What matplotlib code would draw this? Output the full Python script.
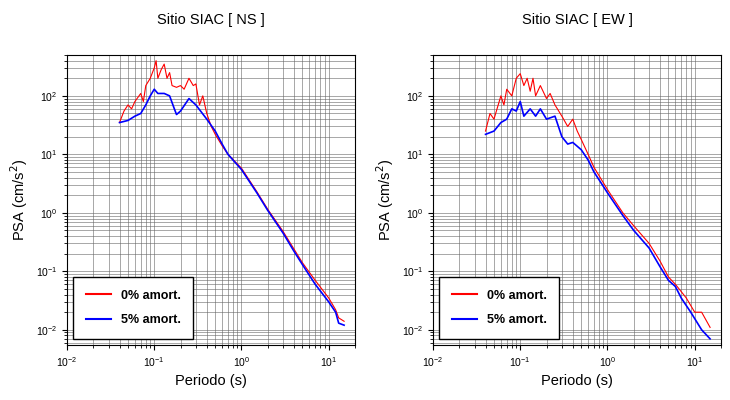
import matplotlib
matplotlib.use("Agg")
import matplotlib.pyplot as plt
from matplotlib.ticker import LogLocator, NullFormatter

plt.rcParams['font.family'] = ['Liberation Sans', 'DejaVu Sans']

titles = ["Sitio SIAC [ NS ]", "Sitio SIAC [ EW ]"]

ns5_T = [0.04,0.05,0.06,0.07,0.08,0.09,0.1,0.11,0.13,0.15,0.17,0.18,0.2,0.25,0.3,0.4,0.5,0.6,0.7,1.0,1.5,2,3,4,5,7,10,12,13,15]
ns5_v = [35,38,45,50,70,100,130,110,110,100,60,48,55,90,70,40,25,15,10,5.5,2.2,1.1,0.45,0.22,0.13,0.06,0.03,0.02,0.013,0.012]
ns0_T = [0.04,0.045,0.05,0.055,0.06,0.07,0.075,0.08,0.09,0.1,0.105,0.11,0.12,0.13,0.14,0.15,0.16,0.18,0.2,0.22,0.25,0.28,0.3,0.33,0.36,0.4,0.45,0.5,0.6,0.7,1,1.5,2,3,4,5,7,10,12,13,15]
ns0_v = [35,55,70,60,80,110,80,150,200,300,400,200,280,350,200,250,150,140,150,130,200,150,160,70,100,50,30,22,14,10,5.8,2.3,1.15,0.48,0.24,0.14,0.07,0.035,0.022,0.016,0.014]
ew5_T = [0.04,0.05,0.06,0.07,0.08,0.09,0.1,0.11,0.13,0.15,0.17,0.2,0.25,0.3,0.35,0.4,0.5,0.6,0.7,1,1.5,2,3,4,5,6,7,9,12,15]
ew5_v = [22,25,35,40,60,55,80,45,60,45,60,40,45,20,15,16,12,8,5,2.2,0.9,0.5,0.25,0.12,0.07,0.055,0.035,0.02,0.01,0.007]
ew0_T = [0.04,0.045,0.05,0.06,0.065,0.07,0.08,0.09,0.1,0.11,0.12,0.13,0.14,0.15,0.17,0.2,0.22,0.25,0.3,0.35,0.4,0.45,0.5,0.6,0.7,1,1.5,2,3,4,5,6,7,8,10,12,15]
ew0_v = [25,50,40,100,70,130,100,200,240,150,200,120,200,100,150,90,110,70,45,30,40,25,18,10,6,2.5,1,0.6,0.3,0.15,0.08,0.06,0.045,0.035,0.02,0.02,0.011]

panels = [(ns0_T, ns0_v, ns5_T, ns5_v), (ew0_T, ew0_v, ew5_T, ew5_v)]

fig = plt.figure(figsize=(7.3, 4.0), dpi=100)
lefts = [67/730, 433/730]
for i, (t0, v0, t5, v5) in enumerate(panels):
    ax = fig.add_axes([lefts[i], 55/400, 288/730, 290/400])
    ax.set_xscale('log'); ax.set_yscale('log')
    ax.set_xlim(0.01, 20); ax.set_ylim(0.0055, 500)
    ax.plot(t0, v0, color='red', lw=0.8, label='0% amort.')
    ax.plot(t5, v5, color='blue', lw=1.2, label='5% amort.')
    ax.xaxis.set_minor_locator(LogLocator(subs=range(2, 10), numticks=20))
    ax.yaxis.set_minor_locator(LogLocator(subs=range(2, 10), numticks=20))
    ax.xaxis.set_minor_formatter(NullFormatter()); ax.yaxis.set_minor_formatter(NullFormatter())
    ax.grid(True, which='both', color='#666666', lw=0.4)
    ax.tick_params(which='both', direction='out', labelsize=7.5)
    ax.set_xlabel('Periodo (s)', fontsize=10.5)
    ax.set_ylabel('PSA (cm/s$^2$)', fontsize=10.5)
    ax.set_title(titles[i], fontsize=10.5, pad=22)
    leg = ax.legend(loc='lower left', fancybox=False, edgecolor='black', framealpha=1,
                    prop={'weight': 'bold', 'size': 9}, borderpad=1.0, labelspacing=1.0,
                    handlelength=2.0)
    for h in leg.get_lines():
        h.set_linewidth(1.5)
    leg.get_frame().set_linewidth(1.0)
fig.savefig('out.png', dpi=100)
